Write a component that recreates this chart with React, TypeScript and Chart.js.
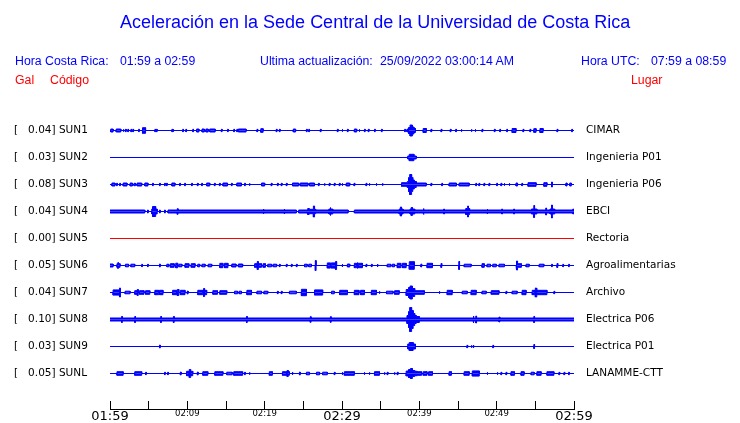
import React, { useEffect, useRef } from 'react';
import { Chart, registerables } from 'chart.js';

Chart.register(...registerables);

// ---------------- data ----------------
const STATION_CODES = ['SUN1', 'SUN2', 'SUN3', 'SUN4', 'SUN5', 'SUN6', 'SUN7', 'SUN8', 'SUN9', 'SUNL'];
const PEAK_GAL = ['0.04', '0.03', '0.08', '0.04', '0.00', '0.05', '0.04', '0.10', '0.03', '0.05'];
const PLACES = ['CIMAR', 'Ingenieria P01', 'Ingenieria P06', 'EBCI', 'Rectoria', 'Agroalimentarias', 'Archivo', 'Electrica P06', 'Electrica P01', 'LANAMME-CTT'];

// minutes after 01:59 (Costa Rica time)
const X_TICK_LABELS = ['01:59', '', '02:09', '', '02:19', '', '02:29', '', '02:39', '', '02:49', '', '02:59'];
const MAJOR_TICK_LABELS = ['01:59', '02:29', '02:59'];

// noise floor bands [startMin, endMin, halfAmplitude]
const FLOOR_SUN4 = [[0, 4.5, 1.5], [7.5, 24.1, 1.5], [24.4, 30.8, 1.5], [31.6, 60, 1.5]];
const FLOOR_SUN8 = [[0, 60, 1.5]];

// bursts [startMin, endMin, halfAmplitude]
const EVENTS_SUN1 = [
  [0.1, 0.4, 1.5], [0.8, 1.4, 1.5], [1.7, 1.8, 1.2], [2.0, 2.1, 1.2], [2.3, 2.4, 1.2], [2.7, 2.8, 1.2], [2.95, 3.05, 1.2],
  [3.7, 3.8, 1.2], [4.2, 4.6, 2.8], [5.8, 5.9, 1.2], [6.0, 6.1, 1.2], [8.0, 8.1, 1.2], [8.15, 8.25, 1.2], [9.4, 9.5, 1.2],
  [9.8, 9.9, 1.2], [10.7, 10.8, 1.2], [11.2, 11.5, 1.5], [11.9, 12.2, 1.5], [12.4, 12.7, 1.5], [12.9, 13.6, 1.5], [14.4, 14.5, 1.2],
  [15.2, 15.3, 1.2], [16.0, 16.1, 1.2], [16.4, 16.5, 1.2], [16.6, 17.6, 1.5], [19.0, 19.1, 1.2], [19.5, 19.8, 1.8], [21.5, 21.6, 1.2],
  [21.9, 22.0, 1.2], [23.7, 24.0, 1.5], [25.4, 25.5, 1.2], [25.7, 25.8, 1.2], [27.2, 27.3, 1.2], [29.4, 29.5, 1.2], [30.0, 30.1, 1.2],
  [30.7, 30.8, 1.2], [31.6, 31.9, 1.5], [32.2, 32.3, 1.2], [32.9, 33.0, 1.2], [33.4, 33.5, 1.2], [34.2, 34.3, 1.2], [35.1, 35.2, 1.2],
  [38.1, 38.2, 1.2], [38.4, 38.5, 1.5], [38.6, 38.8, 3], [38.8, 39.1, 5.5], [39.1, 39.3, 3.5], [39.3, 39.5, 2], [40.5, 40.9, 2],
  [41.5, 41.6, 1.2], [42.8, 42.9, 1.2], [44.0, 44.1, 1.2], [44.7, 44.8, 1.2], [45.4, 45.5, 1.2], [46.7, 46.8, 1.2], [47.2, 47.3, 1.2],
  [48.1, 48.2, 1.2], [49.7, 49.8, 1.2], [50.4, 50.5, 1.2], [51.3, 51.4, 1.2], [52.0, 52.5, 2], [53.4, 53.5, 1.2], [54.3, 54.4, 1.2],
  [54.8, 55.1, 1.8], [55.6, 56.0, 2], [57.8, 57.9, 1.2], [59.7, 59.8, 1.2],
];
const EVENTS_SUN2 = [[38.5, 38.7, 1.5], [38.7, 39.3, 3.2], [39.3, 39.6, 1.5]];
const EVENTS_SUN3 = [
  [0.25, 0.65, 1.5], [0.85, 0.95, 1.2], [1.25, 1.35, 1.2], [1.7, 2.2, 1.5], [2.6, 2.9, 1.5], [3.1, 3.3, 1.2], [3.5, 4.1, 1.5],
  [4.5, 4.9, 1.5], [5.5, 5.6, 1.2], [6.4, 6.5, 1.2], [7.05, 7.15, 1.2], [7.3, 7.4, 1.2], [8.0, 8.4, 1.5], [9.0, 9.1, 1.2],
  [9.65, 9.75, 1.2], [10.55, 10.65, 1.2], [11.3, 11.4, 1.2], [11.85, 11.95, 1.2], [12.5, 12.9, 1.5], [13.5, 13.6, 1.2],
  [14.15, 14.25, 1.2], [14.6, 15.2, 1.5], [15.7, 15.8, 1.2], [16.4, 17.0, 1.5], [17.4, 17.5, 1.2], [18.0, 18.1, 1.2],
  [19.6, 20.0, 1.5], [20.85, 20.95, 1.2], [21.65, 21.75, 1.2], [22.15, 22.25, 1.2], [22.8, 22.9, 1.2], [23.6, 24.4, 1.5],
  [24.6, 25.6, 1.5], [25.8, 26.45, 1.5], [26.95, 27.05, 1.2], [27.7, 27.8, 1.2], [28.35, 28.45, 1.2], [29.0, 29.1, 1.2],
  [29.65, 29.75, 1.2], [30.0, 30.1, 1.2], [30.55, 31.0, 1.5], [31.55, 31.65, 1.2], [33.1, 33.2, 1.2], [33.5, 33.6, 1.2],
  [34.4, 34.5, 1.2], [35.2, 35.3, 1.2], [37.7, 38.45, 1.8], [38.45, 38.6, 3], [38.6, 38.75, 7], [38.75, 39.0, 10],
  [39.0, 39.15, 7], [39.15, 39.35, 4.5], [39.35, 39.6, 3], [39.6, 40.9, 1.5], [41.5, 41.6, 1.2], [42.9, 43.0, 1.2],
  [43.85, 44.8, 1.5], [45.15, 46.45, 1.5], [47.3, 47.4, 1.2], [47.7, 47.8, 1.2], [48.35, 48.45, 1.2], [49.0, 49.1, 1.2],
  [50.0, 50.1, 1.2], [50.55, 50.65, 1.2], [50.95, 51.05, 1.2], [51.6, 51.7, 1.2], [52.5, 52.7, 1.5], [53.25, 53.35, 1.2],
  [54.05, 55.1, 1.8], [56.1, 56.5, 1.8], [57.1, 57.2, 2.5], [58.95, 59.1, 1.5], [59.45, 59.65, 1.5],
];
const EVENTS_SUN4 = [
  [4.85, 4.95, 1.5], [5.4, 5.5, 2.5], [5.5, 5.9, 5], [5.9, 6.1, 2.5], [6.4, 6.5, 1.5], [7.05, 7.15, 1.5], [8.7, 8.8, 2.8],
  [19.8, 19.9, 2.5], [22.5, 22.6, 2.5], [25.5, 26.6, 2.2], [25.6, 25.75, 3], [26.3, 26.45, 5.5], [28.3, 28.8, 2.5],
  [28.45, 28.55, 4], [37.4, 37.9, 2.5], [37.55, 37.7, 4.5], [38.8, 39.4, 2.5], [38.95, 39.1, 4], [40.5, 40.6, 3],
  [43.15, 43.25, 2.5], [46.0, 46.5, 3], [46.25, 46.35, 5.5], [48.75, 48.85, 2.5], [50.65, 50.75, 2.5], [52.2, 52.3, 2.5],
  [54.5, 55.2, 2.5], [54.8, 54.9, 6], [56.35, 56.45, 3.5], [56.9, 57.5, 2.5], [57.1, 57.2, 6.5], [59.85, 59.95, 2.5],
];
const EVENTS_SUN5: number[][] = [];
const EVENTS_SUN6 = [
  [0, 0.4, 1.5], [0.9, 1.3, 1.8], [1.0, 1.1, 2.8], [2.0, 2.4, 1.3], [2.7, 3.2, 1.3], [4.1, 4.2, 1.2], [4.85, 4.95, 1.2],
  [6.4, 6.5, 1.5], [7.35, 7.6, 1.3], [7.8, 8.3, 1.8], [8.5, 8.75, 2.3], [8.9, 9.3, 1.3], [9.7, 10.2, 1.8], [10.5, 11.0, 1.8],
  [11.35, 11.6, 1.3], [11.9, 12.3, 1.3], [12.7, 13.15, 1.3], [14.2, 14.6, 2.2], [14.8, 15.25, 2.2], [15.75, 16.3, 1.5],
  [16.6, 17.15, 1.5], [18.7, 19.0, 1.8], [19.05, 19.15, 4], [19.2, 19.6, 1.8], [19.8, 20.1, 1.8], [20.4, 20.9, 1.3],
  [21.1, 21.55, 1.3], [21.9, 22.0, 1.2], [22.8, 22.9, 1.2], [23.45, 23.55, 1.2], [24.1, 24.2, 1.2], [25.15, 25.5, 1.3],
  [25.7, 26.05, 1.3], [26.55, 26.65, 5], [28.1, 28.5, 2.6], [28.6, 29.1, 2.6], [29.2, 29.3, 4], [30.0, 30.1, 1.5],
  [30.7, 31.0, 1.5], [31.6, 31.9, 2.2], [31.95, 32.05, 3], [32.1, 32.65, 2.2], [33.1, 33.2, 1.2], [33.8, 33.9, 1.2],
  [34.55, 34.65, 1.5], [35.85, 36.3, 1.3], [36.5, 36.8, 1.3], [37.15, 37.6, 2.2], [37.8, 38.3, 2.2], [38.7, 39.35, 3.8],
  [40.2, 40.3, 1.5], [41.0, 41.7, 2.2], [42.8, 42.9, 2], [45.1, 45.2, 4], [45.8, 46.7, 1.3], [48.1, 48.4, 1.8],
  [48.75, 49.2, 1.3], [49.5, 49.95, 1.3], [50.3, 51.0, 1.3], [52.5, 53.2, 1.8], [52.6, 52.7, 4.5], [53.8, 54.2, 1.3],
  [55.5, 56.1, 1.3], [57.1, 57.2, 1.2], [57.8, 57.9, 2], [58.55, 58.65, 1.2], [59.3, 59.4, 1.2],
];
const EVENTS_SUN7 = [
  [0.4, 1.2, 2.6], [1.25, 1.35, 4.5], [1.95, 2.6, 1.3], [3.2, 3.5, 1.8], [3.55, 3.65, 3], [3.8, 4.4, 1.8], [4.6, 5.15, 1.8],
  [5.8, 6.3, 2.2], [6.4, 6.85, 2.2], [8.1, 8.6, 2.2], [8.7, 8.9, 3], [9.1, 9.7, 2.2], [10.0, 10.1, 1.5], [11.35, 12.0, 2.2],
  [12.1, 12.2, 4], [12.25, 12.5, 2.2], [13.3, 13.9, 1.8], [14.2, 15.1, 1.8], [16.1, 16.5, 1.3], [16.7, 17.0, 1.3],
  [17.7, 18.3, 2.2], [19.0, 19.6, 1.3], [19.9, 20.4, 1.3], [21.65, 21.75, 1.2], [22.15, 22.25, 1.2], [23.2, 24.1, 1.3],
  [24.75, 25.4, 3.2], [26.45, 27.5, 2.6], [28.65, 29.0, 1.3], [29.7, 30.7, 2.2], [31.6, 32.2, 2.2], [32.4, 32.9, 2.2],
  [33.8, 34.45, 2.2], [34.8, 34.9, 1.2], [35.75, 36.6, 1.3], [36.8, 37.4, 1.8], [38.3, 38.6, 3], [38.6, 38.8, 5],
  [38.8, 39.1, 6.5], [39.1, 39.4, 4], [39.4, 40.65, 1.8], [42.55, 42.65, 1.2], [43.6, 44.25, 2.2], [45.55, 46.2, 1.3],
  [46.7, 47.35, 2.2], [48.1, 48.65, 1.3], [49.3, 50.3, 1.8], [51.2, 51.3, 1.2], [52.0, 52.65, 1.3], [53.3, 53.8, 2.2],
  [54.6, 54.95, 2.2], [55.0, 55.15, 4.5], [55.2, 56.5, 2.2], [57.4, 57.5, 1.2],
];
const EVENTS_SUN8 = [
  [1.5, 1.6, 3], [3.2, 3.3, 3], [6.55, 6.65, 3], [8.2, 8.3, 3], [17.65, 17.75, 3], [25.9, 26.0, 2.8], [28.5, 28.6, 2.8],
  [38.4, 38.6, 4], [38.6, 38.75, 8], [38.75, 39.0, 12], [39.0, 39.2, 9], [39.2, 39.4, 6], [39.4, 39.6, 4], [39.6, 40.0, 3],
  [46.95, 47.05, 3.5], [47.3, 47.4, 3.5], [50.3, 50.4, 2.5], [54.8, 54.9, 3],
];
const EVENTS_SUN9 = [
  [6.4, 6.5, 1.5], [38.5, 38.7, 2.5], [38.7, 39.2, 4], [39.2, 39.5, 2.5], [46.15, 46.25, 1.2], [46.7, 46.8, 1.2],
  [46.95, 47.05, 1.5], [49.5, 49.6, 1.2], [54.8, 54.9, 2],
];
const EVENTS_SUNL = [
  [0.9, 1.7, 1.8], [3.2, 4.1, 1.8], [4.6, 4.7, 1.2], [7.05, 7.15, 1.2], [7.45, 7.55, 1.2], [9.1, 9.2, 1.5], [9.9, 10.2, 2.2],
  [10.25, 10.4, 4], [10.45, 10.7, 2.2], [11.3, 11.4, 1.5], [12.0, 12.65, 1.8], [13.55, 14.6, 1.8], [15.1, 15.8, 1.3],
  [16.0, 17.15, 1.8], [17.4, 17.5, 1.2], [18.0, 18.1, 1.2], [20.6, 21.0, 1.8], [22.3, 22.85, 1.8], [22.9, 23.05, 3],
  [23.05, 23.2, 1.8], [23.55, 23.65, 1.5], [24.5, 24.6, 1.5], [25.4, 25.8, 1.3], [26.7, 27.1, 1.3], [27.5, 28.1, 1.3],
  [29.0, 29.1, 1.2], [30.0, 30.1, 1.2], [30.3, 31.6, 1.8], [32.85, 32.95, 1.2], [33.5, 33.6, 1.2], [34.2, 34.85, 1.8],
  [35.45, 35.55, 1.2], [35.85, 35.95, 1.2], [36.75, 36.85, 1.2], [37.15, 37.25, 1.2], [38.3, 38.6, 2.5], [38.6, 38.85, 4],
  [38.85, 39.1, 5], [39.1, 39.4, 3], [39.4, 39.75, 2.2], [39.75, 40.3, 1.8], [40.5, 41.0, 1.8], [41.2, 41.7, 1.8],
  [43.85, 44.15, 1.8], [45.8, 46.45, 1.8], [46.85, 47.75, 2.6], [48.75, 48.85, 1.2], [50.05, 50.15, 1.2], [50.55, 50.65, 1.2],
  [51.2, 51.3, 1.2], [51.85, 52.3, 1.8], [53.15, 53.55, 1.8], [54.45, 54.85, 1.3], [55.2, 55.75, 1.8], [56.5, 57.4, 1.8],
  [58.05, 58.15, 1.2], [58.7, 58.8, 1.2], [59.3, 59.4, 1.2],
];

const TRACE_EVENTS = [EVENTS_SUN1, EVENTS_SUN2, EVENTS_SUN3, EVENTS_SUN4, EVENTS_SUN5, EVENTS_SUN6, EVENTS_SUN7, EVENTS_SUN8, EVENTS_SUN9, EVENTS_SUNL];
const TRACE_FLOORS = [[], [], [], FLOOR_SUN4, [], [], [], FLOOR_SUN8, [], []];

// ---------------- styles ----------------
const WINDOW_MIN = 60;
const TRACE_SPACING = 27; // amplitude units per trace row
const BLUE = '#0000ff';
const RED = '#ff0000';
const TEXT_FONT = '"Liberation Sans", Arial, sans-serif';
const AXIS_FONT = '"DejaVu Sans", sans-serif';

function envelope(segs: number[][]) {
  const set = new Set<number>([0, WINDOW_MIN]);
  segs.forEach((s) => { set.add(s[0]); set.add(s[1]); });
  const bps = Array.from(set).sort((a, b) => a - b);
  const pts: { x: number; a: number }[] = [];
  for (let k = 0; k < bps.length - 1; k++) {
    const mid = (bps[k] + bps[k + 1]) / 2;
    let amp = 0;
    for (const s of segs) if (s[0] <= mid && mid <= s[1]) amp = Math.max(amp, s[2]);
    const last = pts[pts.length - 1];
    if (last && last.a === amp) {
      last.x = bps[k + 1];
    } else {
      pts.push({ x: bps[k], a: amp }, { x: bps[k + 1], a: amp });
    }
  }
  return pts;
}

export default function App() {
  const ref = useRef<HTMLCanvasElement | null>(null);

  useEffect(() => {
    if (!ref.current) return;
    const datasets: any[] = [];
    STATION_CODES.forEach((code, i) => {
      const color = PEAK_GAL[i] === '0.00' ? RED : BLUE;
      const env = envelope([...(TRACE_FLOORS[i] as number[][]), ...TRACE_EVENTS[i]]);
      const common = {
        type: 'line',
        borderColor: color,
        backgroundColor: color,
        borderWidth: 1,
        pointRadius: 0,
        tension: 0,
        fill: { value: i },
        yAxisID: 'y',
      };
      datasets.push({ ...common, label: code + '+', data: env.map((p) => ({ x: p.x, y: i - p.a / TRACE_SPACING })) });
      datasets.push({ ...common, label: code + '-', data: env.map((p) => ({ x: p.x, y: i + p.a / TRACE_SPACING })) });
    });

    const rowTicks = (s: any) => { s.ticks = STATION_CODES.map((_, k) => ({ value: k })); };
    const rowFit = (w: number) => (s: any) => { s.width = w; s.paddingTop = 0; s.paddingBottom = 0; };

    const chart = new Chart(ref.current, {
      type: 'line',
      data: { datasets },
      options: {
        animation: false,
        responsive: false,
        events: [],
        layout: { padding: { top: 117, left: 14, right: 0, bottom: 0 } },
        plugins: { legend: { display: false }, tooltip: { enabled: false }, title: { display: false } },
        scales: {
          x: {
            type: 'linear',
            position: 'bottom',
            min: 0,
            max: WINDOW_MIN,
            afterBuildTicks: (s: any) => { s.ticks = X_TICK_LABELS.map((_, k) => ({ value: k * 5 })); },
            afterFit: (s: any) => { s.height = 14; },
            ticks: {
              autoSkip: false,
              maxRotation: 0,
              minRotation: 0,
              padding: 8,
              color: '#000',
              callback: (_v: any, idx: number) => X_TICK_LABELS[idx],
              font: (ctx: any) => {
                const lbl = X_TICK_LABELS[ctx.index] || '';
                return { family: AXIS_FONT, size: MAJOR_TICK_LABELS.includes(lbl) ? 13 : 8.5 };
              },
            },
            grid: { display: true, drawOnChartArea: false, drawTicks: true, tickLength: -8, color: '#000', lineWidth: 1 },
            border: { display: true, color: '#000', width: 1 },
          },
          y: {
            type: 'linear',
            position: 'left',
            reverse: true,
            min: -0.5,
            max: -0.5 + 292 / 27,
            afterBuildTicks: rowTicks,
            afterFit: rowFit(96),
            ticks: {
              crossAlign: 'far',
              padding: 0,
              color: '#000',
              font: { family: AXIS_FONT, size: 10.5 },
              callback: (_v: any, idx: number) => `[   ${PEAK_GAL[idx]}] ${STATION_CODES[idx]}`,
            },
            grid: { display: false, drawTicks: false },
            border: { display: false },
          },
          yR: {
            type: 'linear',
            position: 'right',
            reverse: true,
            min: -0.5,
            max: -0.5 + 292 / 27,
            afterBuildTicks: rowTicks,
            afterFit: rowFit(166),
            ticks: {
              padding: 12,
              color: '#000',
              font: { family: AXIS_FONT, size: 10.5 },
              callback: (_v: any, idx: number) => PLACES[idx],
            },
            grid: { display: false, drawTicks: false },
            border: { display: false },
          },
        },
      } as any,
    });
    return () => chart.destroy();
  }, []);

  const txt = (left: number, top: number, size: number, color: string, s: string) => (
    <div
      style={{
        position: 'absolute', left, top, fontFamily: TEXT_FONT, fontSize: size, lineHeight: 1,
        color, whiteSpace: 'pre',
      }}
    >
      {s}
    </div>
  );

  return (
    <div style={{ position: 'absolute', left: 0, top: 0, width: 740, height: 423, background: '#fff' }}>
      <canvas ref={ref} width={740} height={423} style={{ position: 'absolute', left: 0, top: 0 }} />
      {txt(120, 13, 18, BLUE, 'Aceleración en la Sede Central de la Universidad de Costa Rica')}
      {txt(15, 55, 12.3, BLUE, 'Hora Costa Rica:')}
      {txt(120, 55, 12.3, BLUE, '01:59 a 02:59')}
      {txt(260, 55, 12.3, BLUE, 'Ultima actualización:')}
      {txt(380, 55, 12.3, BLUE, '25/09/2022 03:00:14 AM')}
      {txt(581, 55, 12.3, BLUE, 'Hora UTC:')}
      {txt(651, 55, 12.3, BLUE, '07:59 a 08:59')}
      {txt(15, 74, 12.3, RED, 'Gal')}
      {txt(50, 74, 12.3, RED, 'Código')}
      {txt(631, 74, 12.3, RED, 'Lugar')}
    </div>
  );
}
